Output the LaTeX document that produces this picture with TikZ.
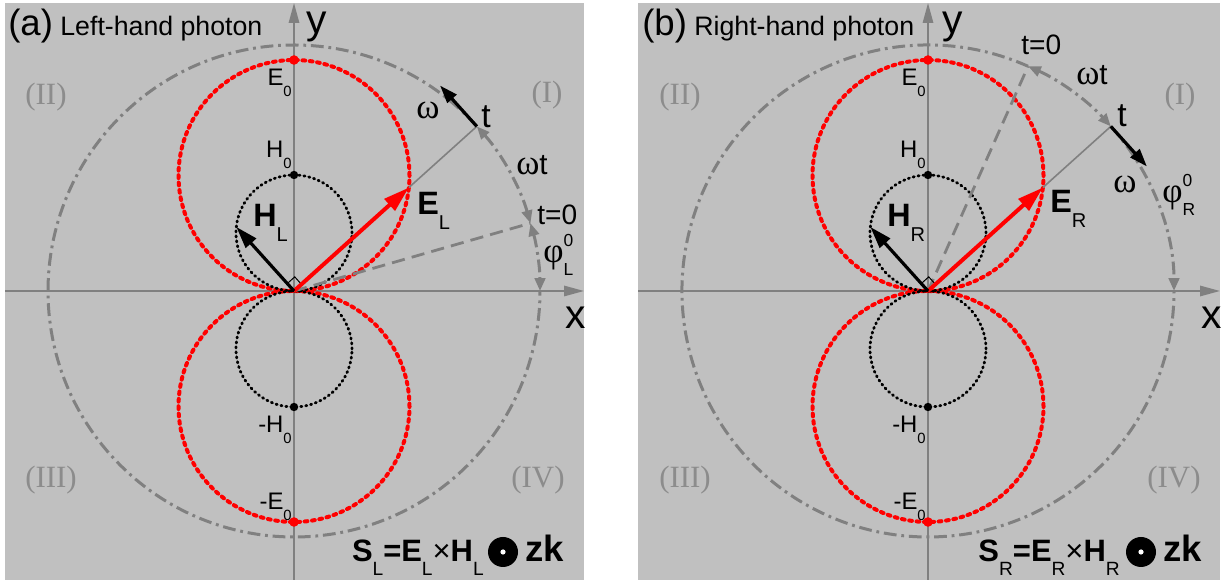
\documentclass[tikz,border=0pt]{standalone}
\usepackage{fontspec}
\setmainfont{Liberation Sans}
\newfontfamily\grk{Liberation Serif}
\usetikzlibrary{arrows.meta}
\definecolor{panelgray}{HTML}{C0C0C0}
\definecolor{axgray}{HTML}{808080}
\definecolor{quadgray}{HTML}{8C8C8C}
\newcommand\lsub[1]{\raisebox{-0.45em}{\scalebox{0.62}{#1}}}
\newcommand\lsubsup[2]{\rlap{\raisebox{0.6em}{\scalebox{0.62}{#1}}}\raisebox{-0.45em}{\scalebox{0.62}{#2}}}

\begin{document}
\begin{tikzpicture}[x=0.25mm,y=0.25mm,
 bg/.style={fill=panelgray},
 ax/.style={axgray,line width=0.45mm,-{Triangle[length=5mm,width=2.6mm]}},
 big/.style={axgray,line width=0.75mm,dash pattern=on 3.2mm off 1.2mm on 0.7mm off 1.2mm},
 bigtip/.style={big,{Triangle[length=3.2mm,width=2.6mm]}-{Triangle[length=3.2mm,width=2.6mm]}},
 bigend/.style={big,-{Triangle[length=3.2mm,width=2.6mm]}},
 ecirc/.style={red,line width=1mm,line cap=round,dash pattern=on 0.7mm off 1.15mm},
 hcirc/.style={black,line width=0.7mm,line cap=round,dash pattern=on 0.3mm off 0.95mm},
 earr/.style={red,line width=1mm,-{Triangle[length=6.5mm,width=3.8mm]}},
 harr/.style={black,line width=0.8mm,-{Triangle[length=5.5mm,width=3.4mm]}},
 warr/.style={black,line width=0.8mm,-{Triangle[length=4.5mm,width=3mm]}},
 ray/.style={axgray,line width=0.4mm},
 tz/.style={axgray,line width=0.7mm,dash pattern=on 3.3mm off 1.8mm},
 rgt/.style={black,line width=0.25mm},
 lb/.style={inner sep=0pt,font=\fontsize{17}{17}\selectfont},
 vb/.style={inner sep=0pt,anchor=base west,font=\fontsize{23}{23}\selectfont\bfseries},
 tl/.style={inner sep=0pt,anchor=base west,font=\fontsize{20}{20}\selectfont},
 gl/.style={inner sep=0pt,anchor=base west,font=\fontsize{25}{25}\selectfont\grk},
 ql/.style={inner sep=0pt,text=quadgray,font=\fontsize{22}{22}\selectfont\grk},
 axl/.style={inner sep=0pt,font=\fontsize{29}{29}\selectfont},
 ttl/.style={anchor=base west,inner sep=0pt,font=\fontsize{19}{19}\selectfont},
 fml/.style={inner sep=0pt,font=\fontsize{22}{22}\selectfont\bfseries}]
\useasboundingbox (0,0) rectangle (1228,582);

% (a) left-hand photon
\begin{scope}[shift={(294,291)}]
\fill[bg] (-289,-289) rectangle (290,288);
\coordinate (aO) at (0,0);
\coordinate (aXl) at (-289,0);
\coordinate (aXr) at (290,0);
\coordinate (aYb) at (0,-289);
\coordinate (aYt) at (0,288);
\draw[ax] (aXl) -- (aXr);
\draw[ax] (aYb) -- (aYt);
\draw[big] (42:246) arc[start angle=42,end angle=360,radius=246];
\draw[bigtip] (42:246) arc[start angle=42,end angle=16,radius=246];
\draw[bigtip] (16:246) arc[start angle=16,end angle=0,radius=246];
\draw[ecirc] (0,115.5) circle[radius=115.5];
\draw[ecirc] (0,-115.5) circle[radius=115.5];
\draw[hcirc] (0,58) circle[radius=58];
\draw[hcirc] (0,-58) circle[radius=58];
\fill[red] (0,231) circle[radius=4.8];
\fill[red] (0,-231) circle[radius=4.8];
\fill (0,116) circle[radius=4.2];
\fill (0,-116) circle[radius=4.2];
\coordinate (aEt) at (42:154.6);
\coordinate (aHt) at (132:86.2);
\coordinate (aT) at (42:246);
\coordinate (aT0) at (16:246);
\draw[tz] (aO) -- (aT0);
\draw[ray] (aEt) -- (aT);
\draw[rgt] (aO) -- ++(42:10) -- ++(132:10) -- ++(222:10);
\draw[earr] (aO) -- (aEt);
\draw[harr] (aO) -- (aHt);
\draw[warr] (aT) -- ++(132:55);
\node[ttl] (aTtl) at (-286,255) {{\fontsize{26}{26}\selectfont(a)} Left-hand photon};
\node[axl] (aY) at (23,264) {y};
\node[axl] (aX) at (282,-27) {x};
\node[lb,anchor=base east] (aE0) at (-2,205) {E\lsub{0}};
\node[lb,anchor=base east] (aH0) at (-2,133) {H\lsub{0}};
\node[lb,anchor=base east] (amH0) at (-2,-142) {-H\lsub{0}};
\node[lb,anchor=base east] (amE0) at (-2,-219) {-E\lsub{0}};
\node[vb] (aEL) at (123,76) {E\lsub{\mdseries L}};
\node[vb] (aHL) at (-41,64) {H\lsub{\mdseries L}};
\node[tl,font=\fontsize{24}{24}\selectfont] (at) at (187,163) {t};
\node[gl] (aw) at (122,172) {ω};
\node[gl] (awt) at (222,116) {ω\fontsize{21}{21}\fontfamily{\familydefault}\selectfont t};
\node[tl] (at0) at (243,66) {t=0};
\node[gl] (aphi) at (249,28) {φ{\fontsize{20}{20}\fontfamily{\familydefault}\selectfont\lsubsup{0}{L}}};
\node[ql] (aQ1) at (253,196) {(I)};
\node[ql] (aQ2) at (-248,194) {(II)};
\node[ql] (aQ3) at (-243,-189) {(III)};
\node[ql] (aQ4) at (244,-189) {(IV)};
\node[fml,anchor=base east] (aS) at (190,-271) {S\lsub{\mdseries L}=E\lsub{\mdseries L}{\mdseries\texttimes}H\lsub{\mdseries L}};
\fill (209,-261) circle[radius=15];
\fill[white] (209,-261) circle[radius=2.6];
\node[fml,anchor=base west,font=\fontsize{26}{26}\selectfont\bfseries] (azk) at (231,-271) {zk};
\end{scope}

% (b) right-hand photon
\begin{scope}[shift={(928,291)}]
\fill[bg] (-290,-289) rectangle (292,288);
\coordinate (bO) at (0,0);
\coordinate (bXl) at (-290,0);
\coordinate (bXr) at (292,0);
\coordinate (bYb) at (0,-289);
\coordinate (bYt) at (0,288);
\draw[ax] (bXl) -- (bXr);
\draw[ax] (bYb) -- (bYt);
\draw[big] (66:246) arc[start angle=66,end angle=360,radius=246];
\draw[bigtip] (66:246) arc[start angle=66,end angle=42,radius=246];
\draw[bigend] (42:246) arc[start angle=42,end angle=0,radius=246];
\draw[ecirc] (0,115.5) circle[radius=115.5];
\draw[ecirc] (0,-115.5) circle[radius=115.5];
\draw[hcirc] (0,58) circle[radius=58];
\draw[hcirc] (0,-58) circle[radius=58];
\fill[red] (0,231) circle[radius=4.8];
\fill[red] (0,-231) circle[radius=4.8];
\fill (0,116) circle[radius=4.2];
\fill (0,-116) circle[radius=4.2];
\coordinate (bEt) at (42:154.6);
\coordinate (bHt) at (132:86.2);
\coordinate (bT) at (42:246);
\coordinate (bT0) at (66:246);
\draw[tz] (bO) -- (bT0);
\draw[ray] (bEt) -- (bT);
\draw[rgt] (bO) -- ++(42:10) -- ++(132:10) -- ++(222:10);
\draw[earr] (bO) -- (bEt);
\draw[harr] (bO) -- (bHt);
\draw[warr] (bT) -- ++(-48:54);
\node[ttl] (bTtl) at (-286,255) {{\fontsize{26}{26}\selectfont(b)} Right-hand photon};
\node[axl] (bY) at (25,264) {y};
\node[axl] (bX) at (284,-27) {x};
\node[lb,anchor=base east] (bE0) at (-2,205) {E\lsub{0}};
\node[lb,anchor=base east] (bH0) at (-2,133) {H\lsub{0}};
\node[lb,anchor=base east] (bmH0) at (-2,-142) {-H\lsub{0}};
\node[lb,anchor=base east] (bmE0) at (-2,-219) {-E\lsub{0}};
\node[vb] (bER) at (122,78) {E\lsub{\mdseries R}};
\node[vb] (bHR) at (-41,64) {H\lsub{\mdseries R}};
\node[tl,font=\fontsize{24}{24}\selectfont] (bt) at (189,164) {t};
\node[gl] (bw) at (185,98) {ω};
\node[gl] (bwt) at (148,206) {ω\fontsize{21}{21}\fontfamily{\familydefault}\selectfont t};
\node[tl] (bt0) at (93,236) {t=0};
\node[gl] (bphi) at (234,88) {φ{\fontsize{20}{20}\fontfamily{\familydefault}\selectfont\lsubsup{0}{R}}};
\node[ql] (bQ1) at (252,194) {(I)};
\node[ql] (bQ2) at (-248,194) {(II)};
\node[ql] (bQ3) at (-243,-189) {(III)};
\node[ql] (bQ4) at (246,-189) {(IV)};
\node[fml,anchor=base east] (bS) at (192,-271) {S\lsub{\mdseries R}=E\lsub{\mdseries R}{\mdseries\texttimes}H\lsub{\mdseries R}};
\fill (213,-261) circle[radius=15];
\fill[white] (213,-261) circle[radius=2.6];
\node[fml,anchor=base west,font=\fontsize{26}{26}\selectfont\bfseries] (bzk) at (235,-271) {zk};
\end{scope}
\end{tikzpicture}
\end{document}
